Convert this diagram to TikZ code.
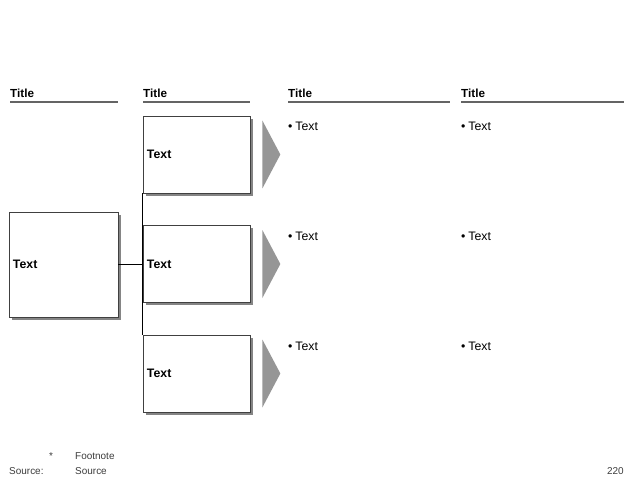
\documentclass[tikz,border=0pt]{standalone}
\usepackage{fontspec}
\setmainfont{Liberation Sans}
\usepackage{tikz}
\usetikzlibrary{shadows,calc}

\definecolor{arrowgray}{RGB}{150,150,150}
\definecolor{rulegray}{RGB}{100,100,100}
\definecolor{notegray}{RGB}{60,60,60}

\begin{document}
\begin{tikzpicture}[x=0.03cm,y=-0.03cm,
  title/.style={anchor=west,inner sep=0pt,font=\fontsize{10}{12}\selectfont\bfseries},
  titlerule/.style={draw=rulegray,line width=0.9pt},
  box/.style={draw=black!75,fill=white,line width=0.6pt,
    drop shadow={shadow xshift=2.4pt,shadow yshift=-2.4pt,fill=black!60,opacity=0.8},
    inner xsep=0.12cm,align=left,font=\fontsize{10.5}{12}\selectfont\bfseries},
  midbox/.style={box,minimum height=2.31cm,text width=2.97cm},
  item/.style={anchor=west,inner sep=0pt,font=\fontsize{10.5}{12}\selectfont},
  note/.style={anchor=west,inner sep=0pt,text=notegray,font=\fontsize{8.5}{10}\selectfont},
  chev/.style={fill=arrowgray,draw=none}]
\useasboundingbox (0,0) rectangle (640,480);

% column titles
\node[title] (t1) at (10,93) {Title};
\node[title] (t2) at (143,93) {Title};
\node[title] (t3) at (288,93) {Title};
\node[title] (t4) at (461,93) {Title};
\draw[titlerule] (10,102)--(118,102);
\draw[titlerule] (143,102)--(250,102);
\draw[titlerule] (288,102)--(450,102);
\draw[titlerule] (461,102)--(624,102);

% boxes
\node[box,minimum height=3.15cm,text width=3.03cm] (root) at (63.5,264.5) {Text};
\node[midbox] (b1) at (196.5,154.5) {Text};
\node[midbox] (b2) at (196.5,264) {Text};
\node[midbox] (b3) at (196.5,373.5) {Text};

% tree lines
\draw[line width=1.3pt] (root.east)--(root.east-|b2.west);
\draw[line width=1.3pt] (b1.south west)--(b3.north west);

% arrows
\foreach \b in {b1,b2,b3}
  \fill[chev] ($(\b.east)+(12,-34)$)--($(\b.east)+(30,0)$)--($(\b.east)+(12,34)$)--cycle;

% bullets
\node[item] (c1) at (288,126) {\textbullet\hspace{2.5pt}Text};
\node[item] (c2) at (288,236) {\textbullet\hspace{2.5pt}Text};
\node[item] (c3) at (288,346) {\textbullet\hspace{2.5pt}Text};
\node[item] (d1) at (461,126) {\textbullet\hspace{2.5pt}Text};
\node[item] (d2) at (461,236) {\textbullet\hspace{2.5pt}Text};
\node[item] (d3) at (461,346) {\textbullet\hspace{2.5pt}Text};

% footer
\node[note] (star) at (49,456) {*};
\node[note] (fn) at (75,456) {Footnote};
\node[note] (src) at (9,471) {Source:};
\node[note] (srct) at (75,471) {Source};
\node[note,anchor=east] (pg) at (624,471) {220};
\end{tikzpicture}
\end{document}
